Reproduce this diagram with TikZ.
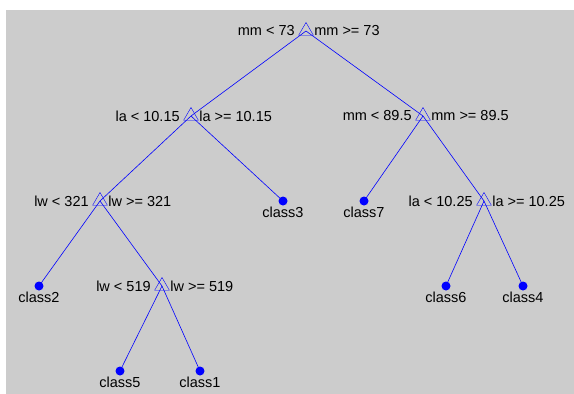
\documentclass[tikz,border=0pt]{standalone}
\usepackage{fontspec}
\setmainfont{Liberation Sans}
\usepackage{tikz}
\usepackage{xcolor}
\usetikzlibrary{shapes,positioning}

\definecolor{plotbg}{gray}{0.8}
\definecolor{treeblue}{rgb}{0,0,1}

\begin{document}
\begin{tikzpicture}[
    x=1pt, y=-1pt,
    split/.style={regular polygon, regular polygon sides=3, draw=treeblue, thin, minimum size=17pt, inner sep=0pt},
    leaf/.style={circle, fill=treeblue, minimum size=9pt, inner sep=0pt},
    branch/.style={draw=treeblue, line width=0.6pt},
    cond/.style={inner sep=1pt, font=\fontsize{14.5}{16}\selectfont},
    cls/.style={inner sep=0pt, font=\fontsize{14.5}{16}\selectfont}
]

% Canvas
\useasboundingbox (0,0) rectangle (574,394);
\fill[plotbg] (6,10) rectangle (574,394);

% Split nodes
\node[split] (mm73) at (306,31) {};
\node[split] (la1015) at (191,116) {};
\node[split] (mm895) at (423,116) {};
\node[split] (lw321) at (100,201) {};
\node[split] (la1025) at (484,201) {};
\node[split] (lw519) at (162,286) {};

% Leaf nodes
\node[leaf] (c3) at (283,201) {};
\node[leaf] (c7) at (364,201) {};
\node[leaf] (c2) at (39,286) {};
\node[leaf] (c6) at (446,286) {};
\node[leaf] (c4) at (523,286) {};
\node[leaf] (c5) at (120,371) {};
\node[leaf] (c1) at (200,371) {};

% Branches
\draw[branch] (mm73.center) -- (la1015.center);
\draw[branch] (mm73.center) -- (mm895.center);
\draw[branch] (la1015.center) -- (lw321.center);
\draw[branch] (la1015.center) -- (c3.center);
\draw[branch] (mm895.center) -- (c7.center);
\draw[branch] (mm895.center) -- (la1025.center);
\draw[branch] (lw321.center) -- (c2.center);
\draw[branch] (lw321.center) -- (lw519.center);
\draw[branch] (la1025.center) -- (c6.center);
\draw[branch] (la1025.center) -- (c4.center);
\draw[branch] (lw519.center) -- (c5.center);
\draw[branch] (lw519.center) -- (c1.center);

% Split conditions
\node[cond, left=5pt of mm73] (mm73l) {mm < 73};
\node[cond, right=2pt of mm73] (mm73r) {mm >= 73};
\node[cond, left=5pt of la1015] (la1015l) {la < 10.15};
\node[cond, right=2pt of la1015] (la1015r) {la >= 10.15};
\node[cond, left=5pt of mm895] (mm895l) {mm < 89.5};
\node[cond, right=2pt of mm895] (mm895r) {mm >= 89.5};
\node[cond, left=5pt of lw321] (lw321l) {lw < 321};
\node[cond, right=2pt of lw321] (lw321r) {lw >= 321};
\node[cond, left=5pt of la1025] (la1025l) {la < 10.25};
\node[cond, right=2pt of la1025] (la1025r) {la >= 10.25};
\node[cond, left=5pt of lw519] (lw519l) {lw < 519};
\node[cond, right=2pt of lw519] (lw519r) {lw >= 519};

% Class labels
\node[cls, below=1pt of c3] (c3l) {class3};
\node[cls, below=1pt of c7] (c7l) {class7};
\node[cls, below=1pt of c2] (c2l) {class2};
\node[cls, below=1pt of c6] (c6l) {class6};
\node[cls, below=1pt of c4] (c4l) {class4};
\node[cls, below=1pt of c5] (c5l) {class5};
\node[cls, below=1pt of c1] (c1l) {class1};

\end{tikzpicture}
\end{document}
